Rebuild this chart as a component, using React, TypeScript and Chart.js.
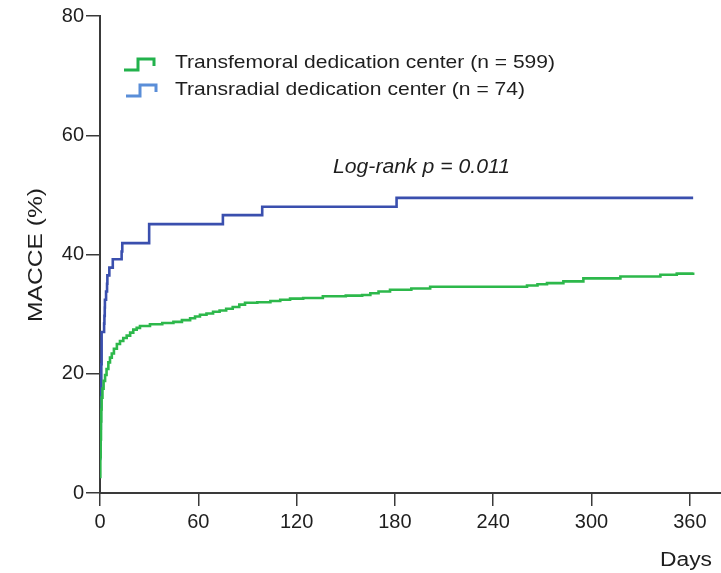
import React, { useEffect, useRef } from "react";
import { Chart, registerables } from "chart.js";

Chart.register(...registerables);

// Kaplan–Meier cumulative MACCE, step points (day of event, cumulative % after it)
const femoralDays = [
  0, 0.2, 0.4, 0.6, 0.8, 1.0, 1.5, 2.2, 3.1, 4.0, 5.1, 6.1, 7.2, 8.5, 10.3, 12.2,
  14.2, 16.3, 18.4, 20.3, 22.4, 24.4, 30.5, 38, 44.8, 50, 55, 58, 61, 65, 69, 73,
  77, 81, 85, 88.5, 96, 104, 110, 116, 124, 136, 150, 160, 165, 170, 177, 190,
  201.5, 260.6, 267, 272.8, 282.8, 295, 317.6, 342, 352, 362,
];
const femoralMacce = [
  2.7, 6.0, 9.0, 12.0, 14.0, 16.0, 17.5, 18.8, 19.8, 20.8, 21.9, 22.7, 23.4, 24.2,
  25.0, 25.5, 26.0, 26.4, 26.9, 27.4, 27.7, 28.0, 28.3, 28.5, 28.7, 29.0, 29.3,
  29.6, 29.9, 30.1, 30.4, 30.6, 30.9, 31.2, 31.6, 31.9, 32.0, 32.2, 32.4, 32.6,
  32.7, 33.0, 33.1, 33.2, 33.5, 33.8, 34.1, 34.3, 34.6, 34.8, 35.0, 35.2, 35.5,
  36.0, 36.3, 36.6, 36.8, 37.0,
];

const radialDays = [
  0, 0.1, 0.3, 0.5, 0.8, 1.0, 2.5, 2.7, 2.9, 3.0, 3.7, 4.3, 4.5, 5.7, 7.8, 13.2,
  13.6, 30, 75, 99, 181, 362,
];
const radialMacce = [
  5.7, 8.1, 10.8, 16.2, 21.6, 27.0, 28.4, 29.7, 31.1, 32.4, 33.8, 35.1, 36.5, 37.8,
  39.2, 40.5, 41.9, 45.1, 46.6, 48.0, 49.5, 49.5,
];

const xTicks = [0, 60, 120, 180, 240, 300, 360];
const yTicks = [0, 20, 40, 60, 80];

const seriesLabels = [
  "Transfemoral dedication center (n = 599)",
  "Transradial dedication center (n = 74)",
];
const statText = "Log-rank p = 0.011";
const xTitle = "Days";
const yTitle = "MACCE (%)";

const FONT = '"Liberation Sans", Arial, Helvetica, sans-serif';
const GREEN = "#2db84b";
const BLUE = "#3a4fae";
const GREEN_KEY = "#22b24c";
const BLUE_KEY = "#5a8ed8";
const AXIS = "#3a3a3a";
const TEXT = "#1e1e1e";

const toPoints = (xs: number[], ys: number[]) => xs.map((x, i) => ({ x, y: ys[i] }));

// Writes text starting at x, widened horizontally to the given width
function fitText(ctx: CanvasRenderingContext2D, text: string, x: number, y: number, width: number) {
  const w = ctx.measureText(text).width;
  ctx.save();
  ctx.translate(x, y);
  ctx.scale(width / w, 1);
  ctx.fillText(text, 0, 0);
  ctx.restore();
}

// Draws legend keys, statistic note and axis titles on top of the plot
const overlayPlugin = {
  id: "kmOverlay",
  afterDraw(chart: any) {
    const ctx: CanvasRenderingContext2D = chart.ctx;
    ctx.save();

    const keys = [
      { color: GREEN_KEY, dx: 0, dy: 0, width: 380 },
      { color: BLUE_KEY, dx: 2, dy: 26, width: 350 },
    ];
    ctx.lineWidth = 3;
    ctx.lineJoin = "miter";
    keys.forEach((k, i) => {
      const x0 = 124 + k.dx;
      const yb = 70 + k.dy;
      ctx.strokeStyle = k.color;
      ctx.beginPath();
      ctx.moveTo(x0, yb);
      ctx.lineTo(x0 + 14, yb);
      ctx.lineTo(x0 + 14, yb - 11);
      ctx.lineTo(x0 + 30, yb - 11);
      ctx.lineTo(x0 + 30, yb - 4);
      ctx.stroke();

      ctx.fillStyle = TEXT;
      ctx.font = `19px ${FONT}`;
      ctx.textAlign = "left";
      ctx.textBaseline = "alphabetic";
      fitText(ctx, seriesLabels[i], 175, 68 + i * 27, k.width);
    });

    ctx.font = `italic 20px ${FONT}`;
    ctx.fillStyle = TEXT;
    ctx.textAlign = "left";
    fitText(ctx, statText, 333, 173, 177);

    ctx.font = `20px ${FONT}`;
    fitText(ctx, xTitle, 660, 566, 52);

    ctx.save();
    ctx.translate(42, 322);
    ctx.rotate(-Math.PI / 2);
    ctx.textBaseline = "alphabetic";
    fitText(ctx, yTitle, 0, 0, 134);
    ctx.restore();

    ctx.restore();
  },
};

export default function App() {
  const canvasRef = useRef<HTMLCanvasElement | null>(null);

  useEffect(() => {
    if (!canvasRef.current) return;
    const chart = new Chart(canvasRef.current, {
      type: "line",
      data: {
        datasets: [
          {
            label: seriesLabels[0],
            data: toPoints(femoralDays, femoralMacce),
            borderColor: GREEN,
            borderWidth: 2.6,
            stepped: "before",
            pointRadius: 0,
            fill: false,
          },
          {
            label: seriesLabels[1],
            data: toPoints(radialDays, radialMacce),
            borderColor: BLUE,
            borderWidth: 2.6,
            stepped: "before",
            pointRadius: 0,
            fill: false,
          },
        ],
      },
      options: {
        animation: false,
        responsive: true,
        maintainAspectRatio: false,
        layout: { padding: { top: 16, left: 0, right: 0, bottom: 0 } },
        plugins: {
          legend: { display: false },
          tooltip: { enabled: false },
        },
        scales: {
          x: {
            type: "linear",
            min: 0,
            max: 379,
            afterBuildTicks: (scale: any) => {
              scale.ticks = xTicks.map((v) => ({ value: v }));
            },
            afterFit: (scale: any) => {
              scale.height = 80;
              scale.paddingLeft = 0;
              scale.paddingRight = 0;
            },
            grid: {
              drawOnChartArea: false,
              drawTicks: true,
              tickLength: 13,
              color: AXIS,
              lineWidth: 1.5,
            },
            border: { display: true, color: AXIS, width: 2 },
            ticks: {
              color: TEXT,
              font: { family: FONT, size: 20 },
              padding: 4,
              maxRotation: 0,
              autoSkip: false,
            },
          },
          y: {
            type: "linear",
            min: 0,
            max: 80,
            afterBuildTicks: (scale: any) => {
              scale.ticks = yTicks.map((v) => ({ value: v }));
            },
            afterFit: (scale: any) => {
              scale.width = 100;
              scale.paddingTop = 0;
              scale.paddingBottom = 0;
            },
            grid: {
              drawOnChartArea: false,
              drawTicks: true,
              tickLength: 14,
              color: AXIS,
              lineWidth: 1.5,
            },
            border: { display: true, color: AXIS, width: 2 },
            ticks: {
              color: TEXT,
              font: { family: FONT, size: 20 },
              padding: 2,
            },
          },
        },
      },
      plugins: [overlayPlugin],
    });
    return () => chart.destroy();
  }, []);

  return (
    <div style={{ position: "absolute", left: 0, top: 0, width: 721, height: 573, background: "#fff" }}>
      <canvas ref={canvasRef} />
    </div>
  );
}
